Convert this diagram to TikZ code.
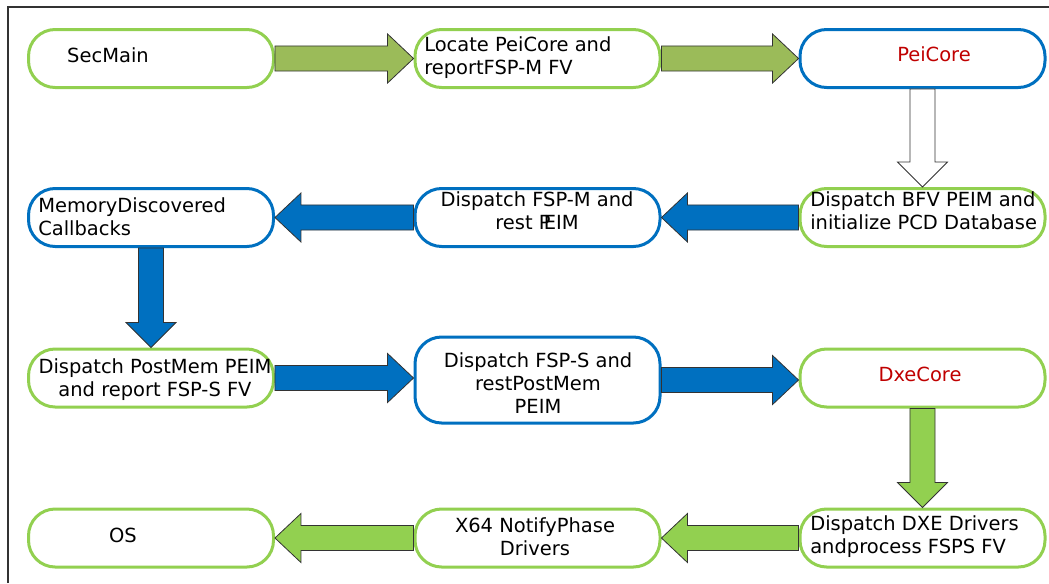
\documentclass[tikz,border=0pt]{standalone}
\usepackage{fontspec}
\setmainfont{DejaVu Sans}
\usetikzlibrary{calc}

\definecolor{lgreen}{HTML}{92D050}
\definecolor{olivegr}{HTML}{9BBB59}
\definecolor{mblue}{HTML}{0070C0}
\definecolor{dred}{HTML}{C00000}

\tikzset{
  box/.style={draw, line width=2.25pt, rounded corners=20pt,
    minimum width=183.75pt, minimum height=43.5pt, inner sep=0pt,
    outer sep=1.1pt, fill=white},
  gbox/.style={box, draw=lgreen},
  bbox/.style={box, draw=mblue},
  txt/.style={font=\fontsize{14.6pt}{17.4pt}\selectfont, inner sep=0pt, align=center},
  ltxt/.style={txt, align=left, anchor=west},
  core/.style={txt, text=dred},
  blk/.style={draw=black!80, line width=0.6pt, line join=miter},
}

% horizontal block arrow: style, tail anchor, tip anchor
\newcommand\harrow[3]{%
  \filldraw[blk,#1] let \p1=(#2), \p2=(#3), \n1={sign(\x2-\x1)} in
    (\x1,\y1+9.4pt) -- (\x2-\n1*19.5pt,\y1+9.4pt) -- (\x2-\n1*19.5pt,\y1+18.4pt)
    -- (\x2,\y1) -- (\x2-\n1*19.5pt,\y1-18.4pt) -- (\x2-\n1*19.5pt,\y1-9.4pt)
    -- (\x1,\y1-9.4pt) -- cycle;}

% vertical block arrow: style, tail anchor, tip anchor
\newcommand\varrow[3]{%
  \filldraw[blk,#1] let \p1=(#2), \p2=(#3), \n1={sign(\y2-\y1)} in
    (\x1+9.4pt,\y1) -- (\x1+9.4pt,\y2-\n1*18.75pt) -- (\x1+18.75pt,\y2-\n1*18.75pt)
    -- (\x1,\y2) -- (\x1-18.75pt,\y2-\n1*18.75pt) -- (\x1-9.4pt,\y2-\n1*18.75pt)
    -- (\x1-9.4pt,\y1) -- cycle;}

\begin{document}
\begin{tikzpicture}[x=0.75pt, y=-0.75pt]
\useasboundingbox (0,0) rectangle (1049,583);

% frame
\draw[line width=1.1pt, black!80] (8,583) -- (8,7) -- (1049,7);

% boxes
\node[gbox] (sec)  at (151,58.5) {};
\node[gbox] (loc)  at (537.5,58.5) {};
\node[bbox] (pei)  at (922.5,58.5) {};

\node[bbox] (mem)  at (151,217.5) {};
\node[bbox] (fspm) at (537.5,217.5) {};
\node[gbox] (bfv)  at (922.5,217.5) {};

\node[gbox] (post) at (151,378) {};
\node[bbox, minimum height=64.5pt] (fsps) at (537.5,380) {};
\node[gbox] (dxe)  at (922.5,378) {};

\node[gbox] (os)   at (151,538) {};
\node[gbox] (x64)  at (537.5,538) {};
\node[gbox] (drv)  at (922.5,538) {};

% connectors
\harrow{fill=olivegr}{sec.east}{loc.west}
\harrow{fill=olivegr}{loc.east}{pei.west}
\varrow{fill=white}{pei.south}{bfv.north}
\harrow{fill=mblue}{bfv.west}{fspm.east}
\harrow{fill=mblue}{fspm.west}{mem.east}
\varrow{fill=mblue}{mem.south}{post.north}
\harrow{fill=mblue}{post.east}{fsps.west}
\harrow{fill=mblue}{fsps.east}{dxe.west}
\varrow{fill=lgreen}{dxe.south}{drv.north}
\harrow{fill=lgreen}{drv.west}{x64.east}
\harrow{fill=lgreen}{x64.west}{os.east}

% labels
\node[txt]  (tsec)  at (108,55)  {SecMain};
\node[ltxt] (tloc)  at (424,58)  {Locate PeiCore and\\reportFSP-M FV};
\node[core] (tpei)  at (934,54)  {PeiCore};

\node[ltxt] (tmem)  at (38,217)  {MemoryDiscovered\\Callbacks};
\node[txt]  (tfspm) at (537,211) {Dispatch FSP-M and\\rest P\kern-0.35em EIM};
\node[ltxt] (tbfv)  at (810,211) {Dispatch BFV PEIM and\\initialize PCD Database};

\node[txt]  (tpost) at (155,380) {Dispatch PostMem PEIM\\and report FSP-S FV};
\node[txt]  (tfsps) at (538,383) {Dispatch FSP-S and\\restPostMem\\PEIM};
\node[core] (tdxe)  at (920,374) {DxeCore};

\node[txt]  (tos)   at (123,535) {OS};
\node[txt]  (tx64)  at (535,537) {X64 NotifyPhase\\Drivers};
\node[ltxt] (tdrv)  at (810,537) {Dispatch DXE Drivers\\andprocess FSPS FV};
\end{tikzpicture}
\end{document}
